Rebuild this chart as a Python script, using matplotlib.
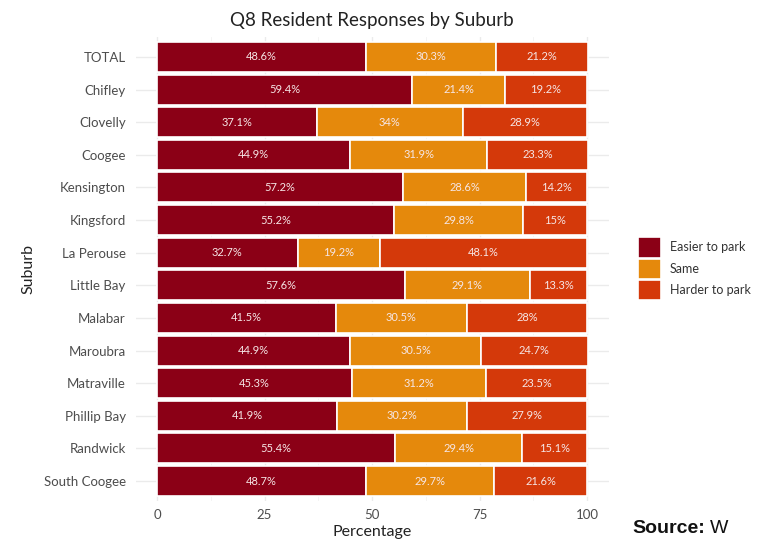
import matplotlib
matplotlib.use("Agg")
import matplotlib.pyplot as plt
import numpy as np

# data
suburbs = ["TOTAL", "Chifley", "Clovelly", "Coogee", "Kensington", "Kingsford",
           "La Perouse", "Little Bay", "Malabar", "Maroubra", "Matraville",
           "Phillip Bay", "Randwick", "South Coogee"]
easier = [48.6, 59.4, 37.1, 44.9, 57.2, 55.2, 32.7, 57.6, 41.5, 44.9, 45.3, 41.9, 55.4, 48.7]
same = [30.3, 21.4, 34.0, 31.9, 28.6, 29.8, 19.2, 29.1, 30.5, 30.5, 31.2, 30.2, 29.4, 29.7]
harder = [21.2, 19.2, 28.9, 23.3, 14.2, 15.0, 48.1, 13.3, 28.0, 24.7, 23.5, 27.9, 15.1, 21.6]
series_names = ["Easier to park", "Same", "Harder to park"]
colours = ["#8B0016", "#E5890C", "#D4390A"]

plt.rcParams['font.family'] = ['Lato', 'DejaVu Sans']

fig = plt.figure(figsize=(7.57, 5.41), dpi=100)
ax = fig.add_axes([0.179, 0.0747, 0.625, 0.8563])

y = np.arange(len(suburbs))
left = np.zeros(len(suburbs))
for vals, name, col in zip([easier, same, harder], series_names, colours):
    vals = np.array(vals)
    ax.barh(y, vals, left=left, height=0.92, color=col, edgecolor="white",
            linewidth=1.2, label=name, zorder=2)
    for yi, l, v in zip(y, left, vals):
        ax.text(l + v / 2, yi, f"{v:g}%", ha="center", va="center",
                color="#F6E6E6", fontsize=8, zorder=3)
    left = left + vals

ax.set_xlim(-5, 105)
ax.set_ylim(len(suburbs) - 0.4, -0.6)
ax.set_yticks(y)
ax.set_yticklabels(suburbs)
ax.set_xticks([0, 25, 50, 75, 100])
ax.set_xticks([12.5, 37.5, 62.5, 87.5], minor=True)
ax.tick_params(axis="both", which="both", length=0, colors="#4D4D4D", labelsize=9.5)
ax.tick_params(axis="y", pad=7)
ax.tick_params(axis="x", pad=6)
ax.grid(True, which="major", color="#EBEBEB", linewidth=1.0, zorder=0)
ax.grid(True, which="minor", axis="x", color="#F3F3F3", linewidth=0.6, zorder=0)
for s in ax.spines.values():
    s.set_visible(False)

ax.set_title("Q8 Resident Responses by Suburb", fontsize=13.5, color="#222222", pad=8)
ax.set_xlabel("Percentage", fontsize=11.5, color="#222222", labelpad=3)
ax.set_ylabel("Suburb", fontsize=11.5, color="#222222", labelpad=6)

fig.legend(loc="center left", bbox_to_anchor=(0.834, 0.503), frameon=False,
           borderpad=0, handlelength=1.9, handleheight=2.1, labelspacing=0.1,
           handletextpad=0.7, fontsize=9, labelcolor="#333333")

# source caption, cut off at the right edge like the reference
src = fig.text(0.835, 0.008, "Source:", fontsize=14, family="Liberation Sans",
               fontweight="bold", color="#111111", ha="left", va="bottom")
fig.canvas.draw()
bb = src.get_window_extent()
fig.text((bb.x1 + 5) / fig.bbox.width, 0.008, "W", fontsize=14,
         family="Liberation Sans", color="#111111", ha="left", va="bottom")

fig.savefig("out.png", dpi=100)
